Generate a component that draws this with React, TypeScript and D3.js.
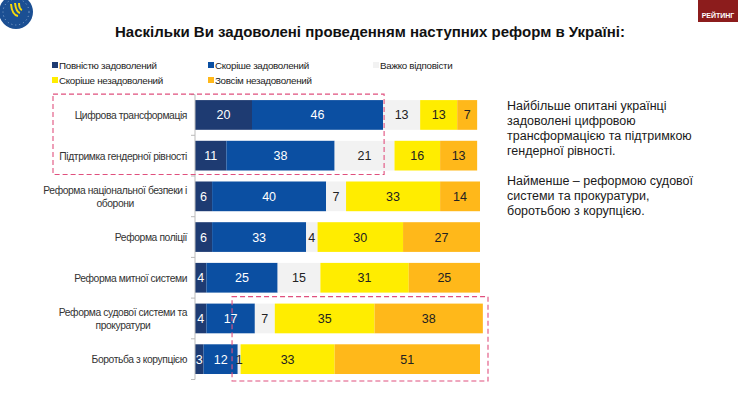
import * as d3 from 'd3'
import { useEffect, useRef } from 'react'

// categories (top to bottom), each label can have 2 lines
const categories = [
    ['Цифрова трансформація'],
    ['Підтримка гендерної рівності'],
    ['Реформа національної безпеки і', 'оборони'],
    ['Реформа поліції'],
    ['Реформа митної системи'],
    ['Реформа судової системи та', 'прокуратури'],
    ['Боротьба з корупцією'],
]

const seriesNames = ['Повністю задоволений', 'Скоріше задоволений', 'Важко відповісти', 'Скоріше незадоволений', 'Зовсім незадоволений']
const seriesColors = ['#1e3b72', '#0b4fa2', '#f2f2f2', '#ffed00', '#ffb81a']
const labelColors = ['#ffffff', '#ffffff', '#222222', '#222222', '#222222']

const fullySatisfied = [20, 11, 6, 6, 4, 4, 3]
const ratherSatisfied = [46, 38, 40, 33, 25, 17, 12]
const hardToSay = [13, 21, 7, 4, 15, 7, 1]
const ratherUnsatisfied = [13, 16, 33, 30, 31, 35, 33]
const notSatisfied = [7, 13, 14, 27, 25, 38, 51]

const series = [fullySatisfied, ratherSatisfied, hardToSay, ratherUnsatisfied, notSatisfied]

const title = 'Наскільки Ви задоволені проведенням наступних реформ в Україні:'
const noteTop = ['Найбільше опитані українці', 'задоволені цифровою', 'трансформацією та підтримкою', 'гендерної рівності.']
const noteBottom = ['Найменше – реформою судової', 'системи та прокуратури,', 'боротьбою з корупцією.']

const W = 738
const H = 395
const font = '"Liberation Sans", Arial, sans-serif'

export default function App() {
    const svgRef = useRef<SVGSVGElement>(null)

    useEffect(() => {
        const svg = d3.select(svgRef.current)
        svg.selectAll('*').remove()

        const x = d3.scaleLinear().domain([0, 100]).range([195, 480])
        const y = d3.scaleBand<number>()
            .domain(d3.range(categories.length))
            .range([94.6, 379.5])
            .paddingInner(0.27)
            .paddingOuter(0.135)

        // title
        svg.append('text')
            .attr('x', 370).attr('y', 37)
            .attr('text-anchor', 'middle')
            .style('font-family', font).style('font-weight', 'bold').style('font-size', '15px')
            .attr('fill', '#111')
            .text(title)

        // logos
        const logo = svg.append('g').attr('transform', 'translate(16,12)')
        logo.append('circle').attr('r', 17).attr('fill', '#1b4f93')
        logo.append('circle').attr('r', 13).attr('fill', 'none').attr('stroke', '#cfe0f5').attr('stroke-width', 0.6).attr('stroke-dasharray', '1,3')
        logo.append('path').attr('d', 'M-5,-8 Q-4,3 2,4 M-1,-9 Q0,0 4,1 M3,-9 Q3,-3 6,-2')
            .attr('fill', 'none').attr('stroke', '#f5d90a').attr('stroke-width', 2)
        svg.append('rect').attr('x', 698).attr('y', 0).attr('width', 40).attr('height', 22).attr('fill', '#8c1c1c')
        svg.append('text').attr('x', 718).attr('y', 18).attr('text-anchor', 'middle')
            .style('font-family', font).style('font-weight', 'bold').style('font-size', '7px')
            .attr('fill', '#fff').text('РЕЙТИНГ')

        // legend
        const legendPos = [[52, 65], [208, 65], [373, 65], [52, 80], [208, 80]]
        seriesNames.forEach((name, i) => {
            const [lx, ly] = legendPos[i]
            svg.append('rect').attr('x', lx).attr('y', ly - 3).attr('width', 6).attr('height', 6).attr('fill', seriesColors[i])
            svg.append('text').attr('x', lx + 7).attr('y', ly + 3.5)
                .style('font-family', font).style('font-size', '9.8px').style('letter-spacing', '-0.3px').attr('fill', '#222')
                .text(name)
        })

        // stacked bars
        const rows = categories.map((_, r) => {
            let acc = 0
            return series.map((s, k) => {
                const seg = { row: r, k, x0: acc, x1: acc + s[r], v: s[r] }
                acc += s[r]
                return seg
            })
        }).flat()

        const g = svg.append('g')
        g.selectAll('rect.seg')
            .data(rows)
            .join('rect')
            .attr('class', 'seg')
            .attr('x', d => x(d.x0))
            .attr('y', d => y(d.row)!)
            .attr('width', d => x(d.x1) - x(d.x0))
            .attr('height', y.bandwidth())
            .attr('fill', d => seriesColors[d.k])

        g.selectAll('text.val')
            .data(rows)
            .join('text')
            .attr('class', 'val')
            .attr('x', d => (x(d.x0) + x(d.x1)) / 2)
            .attr('y', d => y(d.row)! + y.bandwidth() / 2 + 4.5)
            .attr('text-anchor', 'middle')
            .style('font-family', font).style('font-size', '12.5px')
            .attr('fill', d => labelColors[d.k])
            .text(d => d.v)

        // axis line and ticks
        const step = y.step()
        g.append('line').attr('x1', 195).attr('x2', 195).attr('y1', y.range()[0]).attr('y2', y.range()[1])
            .attr('stroke', '#bbb').attr('stroke-width', 1)
        d3.range(categories.length + 1).forEach(i => {
            const ty = y.range()[0] + i * step
            g.append('line').attr('x1', 191).attr('x2', 195).attr('y1', ty).attr('y2', ty)
                .attr('stroke', '#bbb')
        })

        // category labels (multi-line centered as a block, right edge at 187)
        categories.forEach((lines, r) => {
            const cy = y(r)! + y.bandwidth() / 2
            const t = svg.append('text')
                .style('font-family', font).style('font-size', '10.3px').style('letter-spacing', '-0.4px').attr('fill', '#333')
            const first = t.append('tspan').text(lines[0])
            const w = (first.node() as SVGTSpanElement).getComputedTextLength()
            if (lines.length === 1) {
                t.attr('text-anchor', 'end')
                first.attr('x', 187).attr('y', cy + 4)
            } else {
                t.attr('text-anchor', 'middle')
                first.attr('x', 187 - w / 2).attr('y', cy - 2)
                t.append('tspan').attr('x', 187 - w / 2).attr('y', cy + 11).text(lines[1])
            }
        })

        // highlight boxes
        const pink = '#e0507e'
        svg.append('rect')
            .attr('x', 53).attr('y', y(0)! - 6)
            .attr('width', x(66) + 1 - 53).attr('height', y(1)! + y.bandwidth() + 4 - (y(0)! - 6))
            .attr('fill', 'none').attr('stroke', pink).attr('stroke-width', 1.1).attr('stroke-dasharray', '5,3')
        svg.append('rect')
            .attr('x', x(13)).attr('y', y(5)! - 7)
            .attr('width', x(100) + 8 - x(13)).attr('height', y(6)! + y.bandwidth() + 7 - (y(5)! - 7))
            .attr('fill', 'none').attr('stroke', pink).attr('stroke-width', 1.1).attr('stroke-dasharray', '5,3')

        // notes
        const notes = svg.append('g').style('font-family', font).style('font-size', '12.5px').attr('fill', '#1a1a1a')
        noteTop.forEach((l, i) => notes.append('text').attr('x', 507).attr('y', 110 + i * 15).text(l))
        noteBottom.forEach((l, i) => notes.append('text').attr('x', 507).attr('y', 185 + i * 15).text(l))
    }, [])

    return (
        <div style={{ position: 'absolute', left: 0, top: 0 }}>
            <svg ref={svgRef} width={W} height={H} style={{ display: 'block', background: '#fff' }}></svg>
        </div>
    )
}
